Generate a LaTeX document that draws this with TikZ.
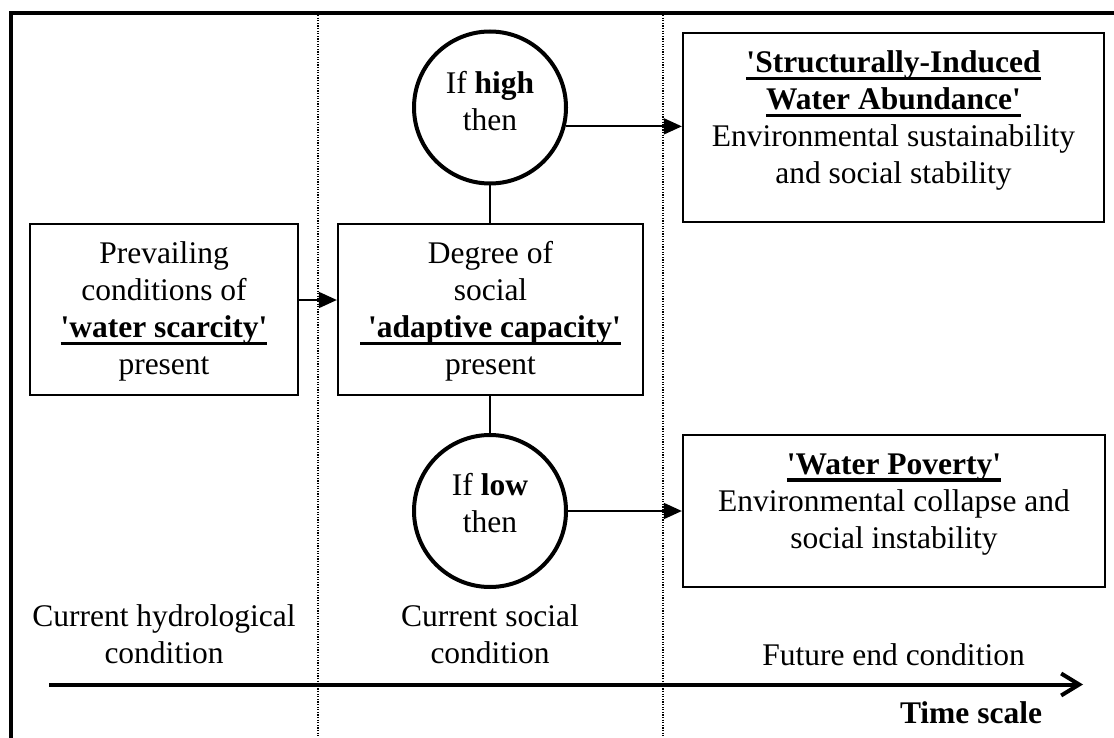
\documentclass[tikz,border=0pt]{standalone}
\usepackage{fontspec}
\setmainfont{Liberation Serif}
\usetikzlibrary{arrows.meta,calc}
\newsavebox\ulbox
\newcommand\ulx[1]{\sbox\ulbox{#1}\rlap{\smash{\rule[-7.5pt]{\wd\ulbox}{3.5pt}}}\usebox\ulbox}
\newcommand\sq{\textquotesingle}
\begin{document}
\begin{tikzpicture}[x=1pt,y=-1pt,
  box/.style={draw, line width=2.3pt, inner sep=0pt, rectangle},
  circ/.style={draw, circle, line width=4pt, inner sep=0pt, minimum size=152pt},
  txt/.style={font=\fontsize{31.5}{37}\selectfont, align=center, inner sep=0pt, anchor=north},
  link/.style={line width=1.8pt},
  arr/.style={line width=1.8pt, -{Triangle[length=18pt,width=16pt]}},
  framestyle/.style={line width=4pt},
  divider/.style={line width=1.4pt, dash pattern=on 1.3pt off 1.3pt},
  timeaxis/.style={line width=4pt, -{Straight Barb[length=18pt,width=22pt]}}]

\useasboundingbox (0,0) rectangle (1114,738);

% frame and dividers
\draw[framestyle] (10.5,738) -- (10.5,13) -- (1114,13);
\draw[divider] (318,15) -- (318,738);
\draw[divider] (663,15) -- (663,738);

% boxes
\node[box, minimum width=268pt, minimum height=171pt] (b1) at (164,309.5) {};
\node[box, minimum width=305pt, minimum height=171pt] (b2) at (490.5,309.5) {};
\node[box, minimum width=421pt, minimum height=189pt] (bh) at (893.5,127.5) {};
\node[box, minimum width=422pt, minimum height=152pt] (bl) at (894,511) {};
\node[circ] (ch) at (490,107.5) {};
\node[circ] (cl) at (490,511) {};

% texts
\node[txt] (t1) at (164,241.5) {Prevailing\\conditions of\\\ulx{\textbf{\sq water scarcity\sq}}\\present};
\node[txt] (t2) at (490.5,241.5) {Degree of\\social\\\ulx{\ \textbf{\sq adaptive capacity\sq}}\\present};
\node[txt] (th) at (490,71.5) {If \textbf{high}\\then};
\node[txt] (tl) at (490,473.5) {If \textbf{low}\\then};
\node[txt] (tbh) at (893.5,50.5) {\ulx{\textbf{\sq Structurally-Induced}}\\\ulx{\textbf{Water Abundance\sq}}\\Environmental sustainability\\and social stability};
\node[txt] (tbl) at (894,453.5) {\ulx{\textbf{\sq Water Poverty\sq}}\\Environmental collapse and\\social instability};
\node[txt] (lab1) at (164,604.5) {Current hydrological\\condition};
\node[txt] (lab2) at (490,604.5) {Current social\\condition};
\node[txt] (lab3) at (893.5,643.5) {Future end condition};
\node[txt] (lab4) at (971,701.5) {\textbf{Time scale}};

% connectors
\draw[link] (ch.south) -- (ch.south |- b2.north);
\draw[link] (cl.north |- b2.south) -- (cl.north);
\draw[arr] ([yshift=9.5pt]b1.east) -- ([yshift=9.5pt]b1.east -| b2.west);
\draw[arr] (ch.-14.5) -- (ch.-14.5 -| bh.west);
\draw[arr] (cl.east) -- (cl.east -| bl.west);

% time axis
\coordinate (a0) at (49,684.5);
\coordinate (a1) at (1083,684.5);
\draw[timeaxis] (a0) -- (a1);
\end{tikzpicture}
\end{document}
